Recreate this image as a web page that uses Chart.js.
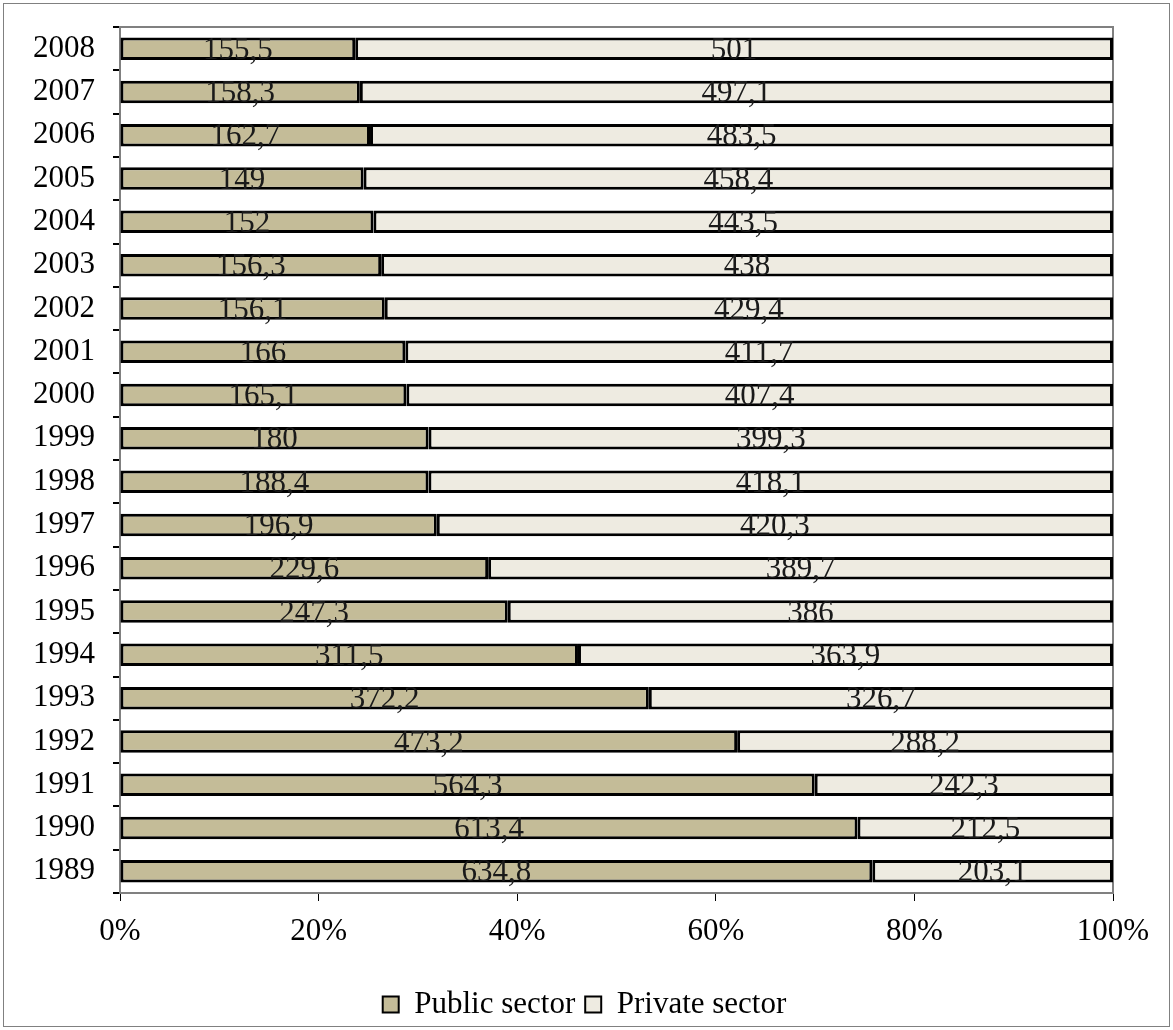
<!DOCTYPE html>
<html>
<head>
<meta charset="utf-8">
<script src="https://cdn.jsdelivr.net/npm/chart.js@4/dist/chart.umd.min.js"></script>
<style>
  body { margin: 0; background: #fff; }
  #wrap { position: relative; width: 1173px; height: 1030px; }
  #frame { position: absolute; left: 3px; top: 3px; width: 1165px; height: 1022px; border: 1px solid #808080; pointer-events: none; }
</style>
</head>
<body>
<div id="wrap">
  <canvas id="sectorChart" width="1173" height="1030"></canvas>
  <div id="frame"></div>
</div>
<script>
/* datos */
const years = ["2008","2007","2006","2005","2004","2003","2002","2001","2000","1999",
               "1998","1997","1996","1995","1994","1993","1992","1991","1990","1989"];
const publicSector = [155.5,158.3,162.7,149,152,156.3,156.1,166,165.1,180,
                      188.4,196.9,229.6,247.3,311.5,372.2,473.2,564.3,613.4,634.8];
const privateSector = [501,497.1,483.5,458.4,443.5,438,429.4,411.7,407.4,399.3,
                       418.1,420.3,389.7,386,363.9,326.7,288.2,242.3,212.5,203.1];
const xTicks = [0, 20, 40, 60, 80, 100];

/* porcentajes para el 100% apilado */
const totals = years.map((y, i) => publicSector[i] + privateSector[i]);
const publicPct = publicSector.map((v, i) => v / totals[i] * 100);
const privatePct = privateSector.map((v, i) => v / totals[i] * 100);

const serif = "'Liberation Serif', 'Times New Roman', serif";

/* etiquetas de valores dentro de cada barra */
const valueLabels = {
  id: "valueLabels",
  afterDatasetsDraw(chart) {
    const ctx = chart.ctx;
    ctx.save();
    ctx.font = "31px " + serif;
    ctx.fillStyle = "#1a1a1a";
    ctx.textAlign = "center";
    ctx.textBaseline = "middle";
    chart.data.datasets.forEach((ds, di) => {
      chart.getDatasetMeta(di).data.forEach((bar, i) => {
        const txt = String(ds.raw[i]).replace(".", ",");
        const cx = (bar.x + bar.base) / 2;
        ctx.fillText(txt, cx, bar.y + 2);
      });
    });
    ctx.restore();
  }
};

/* marco gris del área del gráfico */
const areaFrame = {
  id: "areaFrame",
  beforeDatasetsDraw(chart) {
    const a = chart.chartArea;
    const ctx = chart.ctx;
    ctx.save();
    ctx.strokeStyle = "#808080";
    ctx.lineWidth = 2;
    ctx.strokeRect(a.left, a.top, a.right - a.left, a.bottom - a.top);
    ctx.restore();
  }
};

/* centrar la leyenda en todo el lienzo (no solo hasta el padding derecho) */
const legendShift = {
  id: "legendShift",
  afterLayout(chart) {
    const lg = chart.legend;
    const dx = chart.width / 2 - 2 - (lg.left + lg.right) / 2;
    lg.left += dx;
    lg.right += dx;
  }
};

const config = {
  type: "bar",
  data: {
    labels: years,
    datasets: [
      {
        label: "Public sector",
        data: publicPct,
        raw: publicSector,
        backgroundColor: "#c4bc98",
        borderColor: "#000",
        borderWidth: 3,
        borderSkipped: false
      },
      {
        label: "Private sector",
        data: privatePct,
        raw: privateSector,
        backgroundColor: "#eeebe1",
        borderColor: "#000",
        borderWidth: 3,
        borderSkipped: false
      }
    ]
  },
  options: {
    indexAxis: "y",
    responsive: false,
    devicePixelRatio: 1,
    animation: false,
    categoryPercentage: 1,
    barPercentage: 0.52,
    layout: { padding: { left: 0, right: 60, top: 27, bottom: 0 } },
    scales: {
      x: {
        stacked: true,
        min: 0,
        max: 100,
        afterBuildTicks: (scale) => { scale.ticks = xTicks.map(v => ({ value: v })); },
        afterFit: (scale) => { scale.height = 86; },
        ticks: {
          callback: (v) => v + "%",
          font: { family: serif, size: 31 },
          color: "#000",
          padding: 12,
          maxRotation: 0
        },
        grid: { drawOnChartArea: false, tickLength: 8, color: "#000", lineWidth: 1 },
        border: { color: "#000", width: 2 }
      },
      y: {
        stacked: true,
        afterFit: (scale) => {
          scale.width = 120;
          scale.paddingTop = 0;
          scale.paddingBottom = 0;
        },
        ticks: {
          font: { family: serif, size: 31 },
          color: "#000",
          padding: 18
        },
        grid: { drawOnChartArea: false, offset: true, tickLength: 7, color: "#000", lineWidth: 2 },
        border: { color: "#808080", width: 2 }
      }
    },
    plugins: {
      legend: {
        position: "bottom",
        labels: {
          font: { family: serif, size: 31 },
          color: "#000",
          boxWidth: 16,
          boxHeight: 16,
          padding: 10,
          generateLabels: (chart) => chart.data.datasets.map((ds, i) => ({
            text: ds.label,
            fillStyle: ds.backgroundColor,
            strokeStyle: "#000",
            lineWidth: 2,
            datasetIndex: i
          }))
        }
      },
      tooltip: { enabled: false }
    }
  },
  plugins: [areaFrame, valueLabels, legendShift]
};

const sectorChart = new Chart(document.getElementById("sectorChart"), config);
</script>
</body>
</html>
